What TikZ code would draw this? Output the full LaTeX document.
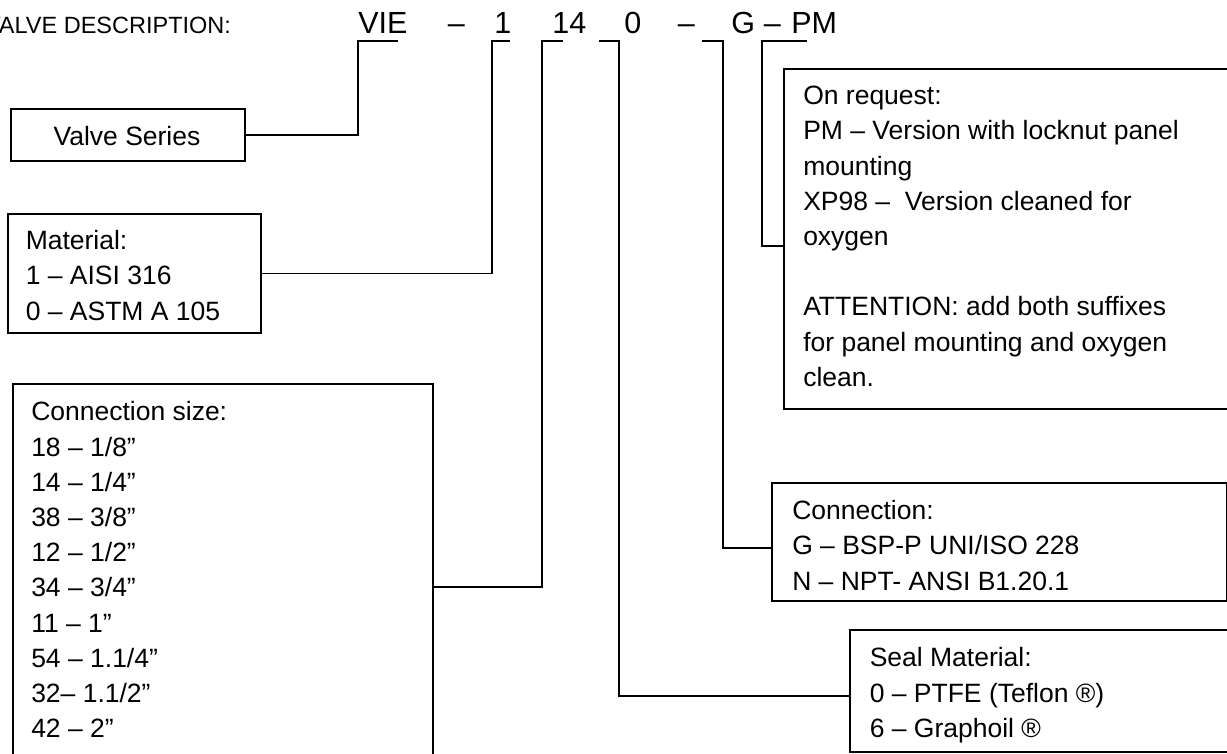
\documentclass[tikz,border=0pt]{standalone}
\usepackage{fontspec}
\setmainfont{Liberation Sans}
\begin{document}
\begin{tikzpicture}[x=1pt,y=1pt,line width=1.5pt]
\tikzset{
  panel/.style n args={2}{draw, anchor=north west, inner sep=0pt, minimum width=#1, minimum height=#2},
  body/.style={inner sep=0pt, align=left, anchor=north west, font=\fontsize{26.5}{35.2}\selectfont},
  head/.style={inner sep=0pt, anchor=base west, font=\fontsize{30.5}{36}\selectfont},
  conn/.style={draw, line width=1.5pt}
}
\useasboundingbox (0,0) rectangle (1227,-753);
\clip (0,0) rectangle (1227,-753);
% title and code
\node[inner sep=0pt, anchor=base west, font=\fontsize{23.5}{28}\selectfont] (title) at (-15.7,-33) {VALVE DESCRIPTION:};
\node[head] (hvie) at (357.5,-33) {VIE};
\node[head] (hd1) at (447,-33) {–};
\node[head] (hm) at (493.7,-33) {1};
\node[head] (hs) at (551.7,-33) {14};
\node[head] (hz) at (623.7,-33) {0};
\node[head] (hd2) at (677,-33) {–};
\node[head] (hg) at (730.5,-33) {G};
\node[head] (hd3) at (763,-33) {–};
\node[head] (hpm) at (790.6,-33) {PM};
% boxes
\node[panel={234pt}{52pt}] (vs) at (10,-108) {};
\node[panel={253pt}{119pt}] (mat) at (7,-213) {};
\node[panel={420pt}{420pt}] (cs) at (12,-383) {};
\node[panel={500pt}{340pt}] (req) at (783,-68) {};
\node[panel={455pt}{118pt}] (con) at (771,-482) {};
\node[panel={420pt}{122pt}] (seal) at (849,-629) {};
% texts
\node[inner sep=0pt, anchor=base, font=\fontsize{26.5}{35.2}\selectfont] (vst) at (127,-145) {Valve Series};
\node[body] (matt) at (25,-224.4) {\strut Material:\\1 – AISI 316\\0 – ASTM A 105};
\node[body] (cst) at (30.5,-395.4) {\strut Connection size:\\18 – 1/8”\\14 – 1/4”\\38 – 3/8”\\12 – 1/2”\\34 – 3/4”\\11 – 1”\\54 – 1.1/4”\\32– 1.1/2”\\42 – 2”};
\node[body] (reqt) at (802.5,-79.4) {\strut On request:\\PM – Version with locknut panel\\mounting\\XP98 –\ \ Version cleaned for\\oxygen\\[35.2pt]ATTENTION: add both suffixes\\for panel mounting and oxygen\\clean.};
\node[body] (cont) at (791.5,-494.4) {\strut Connection:\\G – BSP-P UNI/ISO 228\\N – NPT- ANSI B1.20.1};
\node[body] (sealt) at (869,-641.4) {\strut Seal Material:\\0 – PTFE (Teflon ®)\\6 – Graphoil ®};
% connectors
\coordinate (k1) at (398,-41);
\coordinate (k2) at (510,-41);
\coordinate (k3) at (563,-41);
\coordinate (k4) at (599,-41);
\coordinate (k5) at (702,-41);
\coordinate (k6) at (807,-41);
\draw[conn] (k1) -- ++(-40,0) |- (vs.east);
\draw[conn] (k2) -- ++(-18,0) |- (mat.east);
\draw[conn] (k3) -- ++(-21,0) |- ([yshift=-204pt]cs.north east);
\draw[conn] (k4) -- ++(20,0) |- ([yshift=-67pt]seal.north west);
\draw[conn] (k5) -- ++(21,0) |- ([yshift=-66pt]con.north west);
\draw[conn] (k6) -- ++(-45,0) |- ([yshift=-178pt]req.north west);
\end{tikzpicture}
\end{document}
